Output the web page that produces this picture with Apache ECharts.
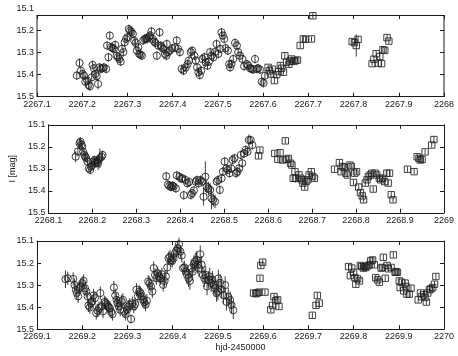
<!DOCTYPE html>
<html><head><meta charset="utf-8">
<script src="https://cdn.jsdelivr.net/npm/echarts@6/dist/echarts.min.js"></script>
<style>html,body{margin:0;padding:0;background:#fff}#c{width:458px;height:356px}</style>
</head><body><div id="c"></div>
<script>
// ---- data: [hjd-2450000, I mag, error] ----
const p1Circles = [
[2267.188,15.404,0.02],[2267.194,15.347,0.02],[2267.197,15.382,0.02],[2267.201,15.397,0.02],[2267.204,15.405,0.02],
[2267.207,15.432,0.02],[2267.211,15.427,0.02],[2267.214,15.447,0.02],[2267.217,15.453,0.02],[2267.221,15.412,0.025],
[2267.223,15.356,0.02],[2267.226,15.371,0.02],[2267.229,15.397,0.02],[2267.232,15.407,0.02],[2267.235,15.442,0.025],
[2267.238,15.367,0.02],[2267.241,15.374,0.02],[2267.245,15.371,0.02],[2267.248,15.367,0.02],[2267.253,15.374,0.02],
[2267.255,15.268,0.02],[2267.258,15.321,0.02],[2267.261,15.223,0.02],[2267.264,15.275,0.02],[2267.267,15.280,0.02],
[2267.270,15.283,0.02],[2267.273,15.265,0.02],[2267.276,15.314,0.02],[2267.279,15.321,0.02],[2267.282,15.329,0.02],
[2267.285,15.341,0.02],[2267.288,15.283,0.02],[2267.291,15.298,0.02],[2267.294,15.253,0.02],[2267.297,15.238,0.02],
[2267.300,15.230,0.02],[2267.303,15.193,0.02],[2267.306,15.200,0.02],[2267.309,15.207,0.02],[2267.312,15.215,0.02],
[2267.315,15.246,0.02],[2267.318,15.256,0.02],[2267.321,15.291,0.02],[2267.324,15.276,0.02],[2267.326,15.306,0.02],
[2267.329,15.310,0.02],[2267.332,15.314,0.02],[2267.335,15.245,0.02],[2267.338,15.238,0.02],[2267.341,15.235,0.02],
[2267.344,15.238,0.02],[2267.347,15.230,0.02],[2267.350,15.222,0.02],[2267.353,15.204,0.02],[2267.356,15.238,0.02],
[2267.359,15.250,0.02],[2267.362,15.256,0.02],[2267.365,15.314,0.02],[2267.368,15.268,0.02],[2267.371,15.208,0.02],
[2267.374,15.268,0.02],[2267.376,15.276,0.02],[2267.379,15.283,0.02],[2267.383,15.306,0.02],[2267.386,15.314,0.02],
[2267.390,15.298,0.02],[2267.387,15.261,0.02],[2267.394,15.291,0.02],[2267.399,15.281,0.02],[2267.405,15.276,0.02],
[2267.409,15.245,0.02],[2267.412,15.283,0.02],[2267.416,15.298,0.02],[2267.420,15.374,0.02],[2267.424,15.382,0.02],
[2267.429,15.367,0.02],[2267.433,15.352,0.02],[2267.436,15.336,0.02],[2267.440,15.298,0.02],[2267.443,15.291,0.02],
[2267.448,15.314,0.02],[2267.451,15.336,0.02],[2267.454,15.367,0.02],[2267.457,15.389,0.02],[2267.460,15.402,0.02],
[2267.463,15.382,0.02],[2267.466,15.329,0.02],[2267.470,15.321,0.02],[2267.473,15.344,0.02],[2267.477,15.359,0.02],
[2267.480,15.341,0.02],[2267.483,15.298,0.02],[2267.486,15.314,0.02],[2267.490,15.321,0.02],[2267.494,15.296,0.02],
[2267.497,15.261,0.02],[2267.501,15.306,0.02],[2267.505,15.283,0.02],[2267.508,15.208,0.02],[2267.511,15.223,0.02],
[2267.514,15.238,0.02],[2267.517,15.280,0.02],[2267.522,15.291,0.02],[2267.525,15.352,0.02],[2267.527,15.367,0.02],
[2267.530,15.352,0.02],[2267.534,15.329,0.02],[2267.538,15.256,0.02],[2267.542,15.268,0.02],[2267.545,15.298,0.02],
[2267.549,15.314,0.02],[2267.554,15.329,0.02],[2267.558,15.362,0.02],[2267.564,15.352,0.02],[2267.567,15.359,0.02],
[2267.571,15.371,0.02],[2267.575,15.374,0.02],[2267.578,15.377,0.02],[2267.582,15.329,0.02],[2267.586,15.374,0.02],
[2267.589,15.371,0.02],[2267.593,15.377,0.02],[2267.597,15.432,0.02],[2267.601,15.438,0.02],[2267.604,15.405,0.02]
];
const p1Squares = [
[2267.611,15.367,0.012],[2267.614,15.383,0.012],[2267.617,15.397,0.012],[2267.620,15.375,0.012],[2267.625,15.427,0.012],
[2267.630,15.400,0.012],[2267.634,15.386,0.012],[2267.638,15.359,0.012],[2267.641,15.371,0.012],[2267.645,15.389,0.012],
[2267.648,15.314,0.012],[2267.652,15.344,0.012],[2267.657,15.353,0.012],[2267.660,15.338,0.012],[2267.663,15.329,0.012],
[2267.668,15.340,0.012],[2267.672,15.336,0.012],[2267.676,15.334,0.012],[2267.682,15.268,0.012],[2267.689,15.238,0.012],
[2267.694,15.240,0.012],[2267.707,15.238,0.012],[2267.710,15.133,0.012],[2267.797,15.250,0.012],[2267.802,15.255,0.012],
[2267.806,15.268,0.05],[2267.810,15.240,0.015],[2267.841,15.350,0.012],[2267.845,15.330,0.012],[2267.850,15.305,0.012],
[2267.854,15.348,0.012],[2267.858,15.318,0.012],[2267.862,15.350,0.012],[2267.865,15.287,0.012],[2267.869,15.290,0.012],
[2267.874,15.232,0.012],[2267.878,15.248,0.012]
];
const p2Circles = [
[2268.162,15.245,0.025],[2268.167,15.222,0.02],[2268.171,15.184,0.025],[2268.173,15.177,0.02],[2268.175,15.190,0.02],
[2268.177,15.199,0.02],[2268.179,15.222,0.02],[2268.182,15.237,0.02],[2268.184,15.245,0.02],[2268.186,15.252,0.02],
[2268.189,15.267,0.02],[2268.192,15.298,0.02],[2268.195,15.305,0.02],[2268.197,15.290,0.02],[2268.199,15.283,0.02],
[2268.202,15.267,0.025],[2268.205,15.260,0.02],[2268.206,15.270,0.02],[2268.208,15.275,0.02],[2268.211,15.267,0.02],
[2268.213,15.275,0.03],[2268.214,15.260,0.02],[2268.217,15.252,0.045],[2268.221,15.245,0.02],[2268.223,15.237,0.02],
[2268.368,15.334,0.02],[2268.372,15.372,0.02],[2268.375,15.378,0.02],[2268.379,15.383,0.02],[2268.382,15.376,0.02],
[2268.385,15.380,0.02],[2268.390,15.389,0.02],[2268.392,15.330,0.02],[2268.398,15.336,0.02],[2268.402,15.345,0.02],
[2268.405,15.343,0.02],[2268.408,15.420,0.02],[2268.412,15.351,0.02],[2268.416,15.366,0.02],[2268.420,15.360,0.02],
[2268.424,15.419,0.02],[2268.427,15.411,0.02],[2268.431,15.398,0.02],[2268.435,15.358,0.02],[2268.438,15.351,0.02],
[2268.442,15.366,0.02],[2268.446,15.351,0.02],[2268.449,15.358,0.02],[2268.453,15.427,0.04],[2268.457,15.336,0.07],
[2268.460,15.381,0.03],[2268.464,15.389,0.03],[2268.468,15.396,0.03],[2268.471,15.434,0.05],[2268.475,15.442,0.03],
[2268.479,15.449,0.03],[2268.483,15.358,0.02],[2268.486,15.351,0.02],[2268.490,15.396,0.02],[2268.494,15.343,0.02],
[2268.497,15.313,0.02],[2268.501,15.267,0.02],[2268.505,15.298,0.02],[2268.508,15.305,0.02],[2268.512,15.320,0.02],
[2268.516,15.298,0.02],[2268.519,15.260,0.02],[2268.523,15.252,0.02],[2268.527,15.320,0.02],[2268.530,15.313,0.02],
[2268.534,15.298,0.02],[2268.538,15.237,0.02],[2268.541,15.275,0.02],[2268.545,15.230,0.02],[2268.549,15.214,0.02],
[2268.553,15.222,0.02],[2268.556,15.169,0.025],[2268.560,15.169,0.02],[2268.564,15.192,0.02]
];
const p2Squares = [
[2268.578,15.241,0.012],[2268.581,15.215,0.012],[2268.615,15.230,0.012],[2268.622,15.257,0.012],[2268.627,15.227,0.012],
[2268.633,15.260,0.012],[2268.639,15.173,0.012],[2268.642,15.257,0.012],[2268.646,15.253,0.012],[2268.651,15.275,0.012],
[2268.654,15.283,0.012],[2268.657,15.343,0.012],[2268.661,15.313,0.012],[2268.662,15.343,0.02],[2268.670,15.328,0.012],
[2268.674,15.343,0.012],[2268.677,15.350,0.012],[2268.679,15.365,0.012],[2268.683,15.383,0.012],[2268.686,15.358,0.012],
[2268.690,15.350,0.012],[2268.693,15.328,0.015],[2268.698,15.313,0.015],[2268.701,15.335,0.012],[2268.705,15.343,0.012],
[2268.751,15.302,0.012],[2268.762,15.272,0.012],[2268.766,15.313,0.012],[2268.769,15.290,0.012],[2268.773,15.293,0.012],
[2268.777,15.320,0.012],[2268.780,15.328,0.012],[2268.786,15.283,0.012],[2268.789,15.290,0.012],[2268.794,15.362,0.012],
[2268.797,15.320,0.012],[2268.801,15.313,0.012],[2268.806,15.383,0.012],[2268.810,15.408,0.012],[2268.814,15.423,0.012],
[2268.817,15.441,0.012],[2268.821,15.365,0.012],[2268.825,15.350,0.012],[2268.828,15.335,0.012],[2268.832,15.328,0.015],
[2268.836,15.320,0.012],[2268.839,15.392,0.012],[2268.843,15.320,0.012],[2268.847,15.328,0.012],[2268.853,15.343,0.012],
[2268.856,15.350,0.012],[2268.860,15.343,0.012],[2268.865,15.358,0.012],[2268.870,15.320,0.012],[2268.873,15.365,0.012],
[2268.876,15.320,0.012],[2268.880,15.418,0.012],[2268.884,15.441,0.012],[2268.917,15.302,0.012],[2268.932,15.313,0.012],
[2268.939,15.245,0.012],[2268.943,15.253,0.012],[2268.946,15.260,0.012],[2268.950,15.257,0.012],[2268.957,15.223,0.012],
[2268.972,15.192,0.012],[2268.977,15.167,0.015]
];
const p3Circles = [
[2269.163,15.273,0.04],[2269.168,15.269,0.03],[2269.180,15.272,0.03],[2269.183,15.299,0.03],[2269.186,15.321,0.03],
[2269.188,15.336,0.03],[2269.191,15.351,0.03],[2269.194,15.314,0.03],[2269.197,15.306,0.03],[2269.200,15.291,0.03],
[2269.203,15.281,0.03],[2269.206,15.314,0.03],[2269.209,15.329,0.03],[2269.212,15.351,0.03],[2269.214,15.392,0.03],
[2269.217,15.401,0.03],[2269.219,15.382,0.03],[2269.222,15.374,0.03],[2269.225,15.347,0.03],[2269.228,15.359,0.03],
[2269.231,15.427,0.03],[2269.234,15.416,0.03],[2269.237,15.404,0.03],[2269.240,15.336,0.03],[2269.243,15.397,0.03],
[2269.246,15.419,0.03],[2269.249,15.377,0.03],[2269.252,15.382,0.03],[2269.255,15.389,0.03],[2269.258,15.397,0.03],
[2269.261,15.404,0.03],[2269.264,15.422,0.03],[2269.267,15.431,0.03],[2269.270,15.311,0.03],[2269.273,15.347,0.03],
[2269.276,15.367,0.03],[2269.278,15.382,0.03],[2269.281,15.397,0.03],[2269.284,15.412,0.03],[2269.287,15.374,0.03],
[2269.290,15.367,0.03],[2269.293,15.419,0.03],[2269.296,15.431,0.03],[2269.299,15.412,0.03],[2269.302,15.397,0.03],
[2269.305,15.389,0.03],[2269.308,15.454,0.02],[2269.311,15.382,0.03],[2269.314,15.397,0.03],[2269.317,15.386,0.03],
[2269.320,15.321,0.03],[2269.323,15.351,0.03],[2269.326,15.329,0.03],[2269.329,15.336,0.03],[2269.332,15.351,0.03],
[2269.335,15.367,0.03],[2269.337,15.377,0.03],[2269.340,15.389,0.03],[2269.343,15.371,0.03],[2269.346,15.284,0.03],
[2269.349,15.291,0.03],[2269.352,15.306,0.03],[2269.355,15.329,0.03],[2269.358,15.223,0.03],[2269.361,15.254,0.03],
[2269.364,15.269,0.03],[2269.367,15.246,0.03],[2269.370,15.261,0.03],[2269.373,15.269,0.03],[2269.376,15.251,0.03],
[2269.379,15.299,0.03],[2269.382,15.281,0.03],[2269.385,15.261,0.03],[2269.388,15.220,0.03],[2269.391,15.178,0.03],
[2269.394,15.171,0.03],[2269.396,15.186,0.03],[2269.399,15.190,0.03],[2269.402,15.178,0.03],[2269.405,15.156,0.03],
[2269.408,15.145,0.03],[2269.411,15.133,0.03],[2269.414,15.115,0.03],[2269.417,15.148,0.03],[2269.420,15.166,0.03],
[2269.423,15.223,0.03],[2269.426,15.220,0.03],[2269.429,15.239,0.03],[2269.432,15.254,0.04],[2269.435,15.269,0.04],
[2269.438,15.281,0.04],[2269.441,15.223,0.04],[2269.444,15.239,0.04],[2269.447,15.205,0.04],[2269.450,15.193,0.04],
[2269.453,15.186,0.04],[2269.455,15.208,0.04],[2269.458,15.223,0.04],[2269.461,15.160,0.04],[2269.464,15.208,0.04],
[2269.467,15.254,0.04],[2269.470,15.269,0.04],[2269.473,15.254,0.04],[2269.476,15.306,0.04],[2269.479,15.276,0.04],
[2269.482,15.261,0.04],[2269.485,15.291,0.04],[2269.488,15.276,0.04],[2269.491,15.299,0.04],[2269.494,15.314,0.04],
[2269.497,15.336,0.04],[2269.500,15.329,0.04],[2269.501,15.270,0.04],[2269.505,15.290,0.04],[2269.508,15.320,0.04],
[2269.512,15.345,0.04],[2269.516,15.300,0.04],[2269.519,15.376,0.04],[2269.523,15.353,0.04],[2269.527,15.368,0.04],
[2269.530,15.390,0.04],[2269.534,15.414,0.04]
];
const p3Squares = [
[2269.579,15.336,0.012],[2269.584,15.339,0.012],[2269.587,15.336,0.012],[2269.591,15.332,0.012],[2269.593,15.269,0.012],
[2269.595,15.211,0.012],[2269.599,15.196,0.012],[2269.604,15.332,0.012],[2269.617,15.412,0.012],[2269.621,15.392,0.012],
[2269.624,15.352,0.012],[2269.628,15.371,0.012],[2269.632,15.367,0.012],[2269.635,15.397,0.012],[2269.709,15.437,0.012],
[2269.717,15.392,0.012],[2269.720,15.347,0.012],[2269.724,15.382,0.012],[2269.789,15.216,0.012],[2269.793,15.257,0.012],
[2269.796,15.223,0.012],[2269.800,15.242,0.012],[2269.803,15.266,0.012],[2269.805,15.296,0.012],[2269.809,15.272,0.012],
[2269.813,15.281,0.012],[2269.815,15.211,0.012],[2269.818,15.216,0.012],[2269.822,15.223,0.012],[2269.825,15.216,0.012],
[2269.827,15.220,0.012],[2269.831,15.213,0.012],[2269.835,15.208,0.012],[2269.838,15.190,0.012],[2269.842,15.186,0.012],
[2269.846,15.208,0.012],[2269.849,15.266,0.012],[2269.853,15.276,0.012],[2269.857,15.287,0.012],[2269.861,15.223,0.012],
[2269.864,15.220,0.012],[2269.866,15.174,0.012],[2269.870,15.269,0.012],[2269.874,15.211,0.012],[2269.877,15.226,0.012],
[2269.883,15.220,0.012],[2269.888,15.163,0.012],[2269.892,15.242,0.012],[2269.894,15.239,0.012],[2269.897,15.242,0.012],
[2269.901,15.281,0.012],[2269.903,15.311,0.012],[2269.906,15.287,0.012],[2269.911,15.326,0.012],[2269.914,15.291,0.012],
[2269.916,15.306,0.012],[2269.918,15.341,0.012],[2269.923,15.341,0.012],[2269.927,15.314,0.012],[2269.943,15.367,0.012],
[2269.948,15.336,0.012],[2269.951,15.352,0.012],[2269.955,15.344,0.012],[2269.958,15.356,0.012],[2269.961,15.377,0.012],
[2269.964,15.336,0.012],[2269.968,15.321,0.012],[2269.971,15.317,0.012],[2269.975,15.311,0.012],[2269.979,15.296,0.012],
[2269.982,15.261,0.012]
];
const xRanges = [[2267.1, 2268], [2268.1, 2269], [2269.1, 2270]];
const yTickLabels = [15.1, 15.2, 15.3, 15.4, 15.5];
const yInnerTicks = [15.2, 15.3, 15.4];
const yLabel = 'I [mag]';
const xLabel = 'hjd-2450000';

// ---- layout ----
const INK = '#1a1a1a';
const FONT = 'Liberation Sans, Arial, Helvetica, sans-serif';
const grids = [
  {left: 37, right: 14, top: 8.5, height: 88.2},
  {left: 37, right: 14, top: 124.8, height: 88},
  {left: 37, right: 14, top: 241, height: 88.2}
];
const xFmt = v => String(parseFloat(v.toFixed(4)));
const yFmt = v => v.toFixed(1);
const lab = {color: INK, fontSize: 9, fontFamily: FONT};

const xAxes = [], yAxes = [];
grids.forEach((g, i) => {
  const [mn, mx] = xRanges[i];
  xAxes.push({
    type: 'value', gridIndex: i, position: 'bottom', min: mn, max: mx, interval: 0.1,
    axisLine: {show: true, onZero: false, lineStyle: {color: INK, width: 1}},
    axisTick: {show: true, inside: true, length: 4, lineStyle: {color: INK}},
    axisLabel: Object.assign({margin: 3, formatter: xFmt}, lab),
    splitLine: {show: false},
    name: i === 2 ? xLabel : '', nameLocation: 'middle', nameGap: 14,
    nameTextStyle: {color: INK, fontSize: 9, fontFamily: FONT}
  });
  xAxes.push({
    type: 'value', gridIndex: i, position: 'top', min: mn, max: mx, interval: 0.1,
    offset: i === 0 ? -6.5 : 0,
    axisLine: {show: true, onZero: false, lineStyle: {color: INK, width: 1}},
    axisTick: {show: true, inside: true, length: 4, lineStyle: {color: INK}},
    axisLabel: {show: false}, splitLine: {show: false}
  });
  const first = i === 0;
  yAxes.push({
    type: 'value', gridIndex: i, position: 'left', inverse: true, min: 15.1, max: 15.5, interval: 0.1,
    axisLine: {show: !first, onZero: false, lineStyle: {color: INK, width: 1}},
    axisTick: {show: true, inside: true, length: 4, lineStyle: {color: INK}, customValues: yInnerTicks},
    axisLabel: Object.assign({margin: 3, formatter: yFmt, customValues: yTickLabels}, lab),
    splitLine: {show: false},
    name: i === 1 ? yLabel : '', nameLocation: 'middle', nameGap: 26, nameRotate: 90,
    nameTextStyle: {color: INK, fontSize: 9, fontFamily: FONT}
  });
  yAxes.push({
    type: 'value', gridIndex: i, position: 'right', inverse: true, min: 15.1, max: 15.5, interval: 0.1,
    axisLine: {show: !first, onZero: false, lineStyle: {color: INK, width: 1}},
    axisTick: {show: true, inside: true, length: 4, lineStyle: {color: INK}, customValues: yInnerTicks},
    axisLabel: {show: false}, splitLine: {show: false}
  });
});

function renderer(kind) {
  return function (params, api) {
    const x = api.value(0), y = api.value(1), e = api.value(2);
    const c = api.coord([x, y]);
    const t = api.coord([x, y - e]);
    const b = api.coord([x, y + e]);
    const st = {fill: 'none', stroke: '#1e1e1e', lineWidth: 0.85};
    const kids = [{type: 'line', shape: {x1: c[0], y1: t[1], x2: c[0], y2: b[1]}, style: st}];
    if (kind === 'circle') kids.push({type: 'circle', shape: {cx: c[0], cy: c[1], r: 3.6}, style: st});
    else kids.push({type: 'rect', shape: {x: c[0] - 3.2, y: c[1] - 3.2, width: 6.4, height: 6.4}, style: st});
    return {type: 'group', children: kids};
  };
}
const sets = [[p1Circles, p1Squares], [p2Circles, p2Squares], [p3Circles, p3Squares]];
const series = [];
sets.forEach((pair, i) => {
  ['circle', 'rect'].forEach((kind, k) => {
    series.push({
      type: 'custom', xAxisIndex: 2 * i, yAxisIndex: 2 * i, data: pair[k],
      renderItem: renderer(kind), encode: {x: 0, y: 1}, clip: false, animation: false, silent: true
    });
  });
});

const chart = echarts.init(document.getElementById('c'), null, {renderer: 'canvas'});
chart.setOption({
  animation: false,
  backgroundColor: '#fff',
  grid: grids,
  xAxis: xAxes,
  yAxis: yAxes,
  series: series,
  graphic: [
    {type: 'line', shape: {x1: 37, y1: 15, x2: 37, y2: 96.7}, style: {stroke: INK, lineWidth: 1}, silent: true},
    {type: 'line', shape: {x1: 444, y1: 15, x2: 444, y2: 96.7}, style: {stroke: INK, lineWidth: 1}, silent: true}
  ]
});
</script>
</body></html>
